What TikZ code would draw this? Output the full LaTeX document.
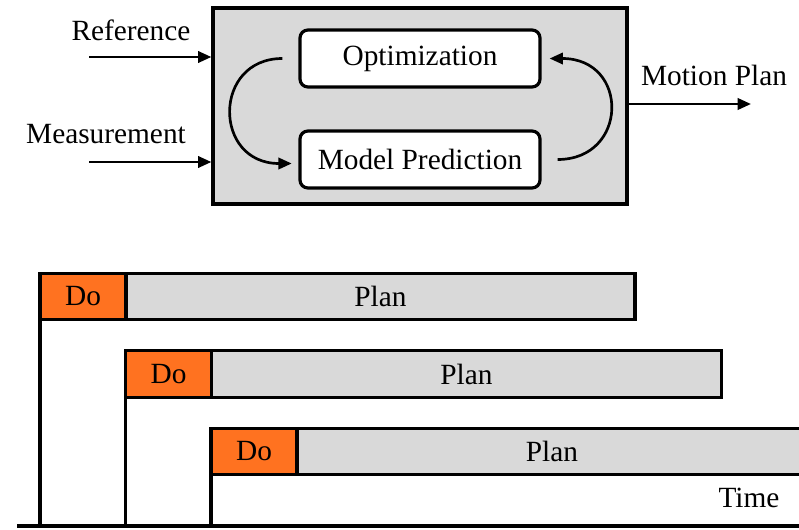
\documentclass[tikz,border=0pt]{standalone}
\usepackage{fontspec}
\setmainfont{Liberation Serif}
\usepackage{xcolor}
\usetikzlibrary{arrows.meta,positioning}

\definecolor{doorange}{RGB}{255,114,32}
\definecolor{boxgray}{RGB}{217,217,217}

\begin{document}
\begin{tikzpicture}[
  x=0.75pt, y=-0.75pt,
  frame/.style={rectangle, draw=black, line width=2.4pt, fill=boxgray,
                minimum width=310.5pt, minimum height=147pt},
  block/.style={rectangle, rounded corners=6pt, draw=black, line width=2.4pt, fill=white,
                minimum width=180pt, minimum height=42.75pt},
  dobox/.style={rectangle, draw=black, line width=2.4pt, fill=doorange, outer sep=0pt,
                minimum width=64.5pt, minimum height=35pt},
  planbox/.style={rectangle, draw=black, line width=2.4pt, fill=boxgray, outer sep=0pt,
                minimum height=35pt},
  lbl/.style={inner sep=0pt},
  arr/.style={-{Triangle[length=10pt, width=8.5pt]}, line width=2pt},
  axis/.style={line width=2.4pt},
  every node/.style={font=\fontsize{22}{26}\selectfont}
]
\useasboundingbox (0,0) rectangle (799,529);

% controller block
\node[frame] (mpc) at (420,106) {};
\node[block] (opt)  at (420,58.5)  {Optimization};
\node[block] (pred) at (420,159.5) {Model Prediction};

\draw[arr] ([xshift=-12pt]opt.west) .. controls +(-70,0) and +(-79,0) .. ([xshift=-5pt,yshift=-3pt]pred.west);
\draw[arr] ([xshift=12pt]pred.east) .. controls +(71,0) and +(80,0) .. ([xshift=6pt]opt.east);

% inputs and output
\node[lbl] (ref)  at (131,30)  {Reference};
\node[lbl] (meas) at (106,134) {Measurement};
\node[lbl] (out)  at (714,75)  {Motion Plan};
\coordinate (refin)   at (89,57);
\coordinate (measin)  at (89,162);
\coordinate (planout) at (751,104);
\draw[arr] (refin) -- (refin -| mpc.west);
\draw[arr] (measin) -- (measin -| mpc.west);
\draw[arr] (planout -| mpc.east) -- (planout);

% receding horizon
\node[dobox] (do1) at (83,296.5) {Do};
\node[planbox, minimum width=381.75pt, right=0pt of do1] (plan1) {Plan};
\node[dobox] (do2) at (168.5,374) {Do};
\node[planbox, minimum width=382.5pt, right=0pt of do2] (plan2) {Plan};
\node[dobox] (do3) at (254,451.5) {Do};
\node[planbox, minimum width=382.5pt, right=0pt of do3] (plan3) {Plan};

\coordinate (t0)   at (17,526);
\coordinate (tend) at (799,526);
\draw[axis] (t0) -- (tend);
\draw[axis] (do1.south west) -- (do1.south west |- t0);
\draw[axis] (do2.south west) -- (do2.south west |- t0);
\draw[axis] (do3.south west) -- (do3.south west |- t0);
\node[lbl] (time) at (749,498) {Time};

\end{tikzpicture}
\end{document}
